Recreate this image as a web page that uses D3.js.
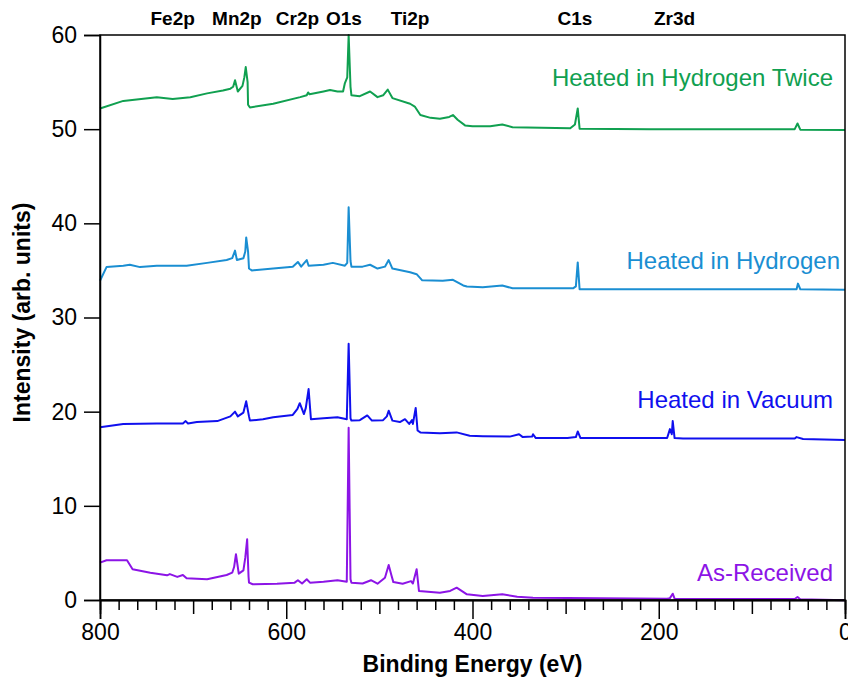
<!DOCTYPE html>
<html>
<head>
<meta charset="utf-8">
<script src="https://cdn.jsdelivr.net/npm/d3@7"></script>
<style>
  html, body { margin: 0; padding: 0; background: #fff; }
  svg { display: block; font-family: "Liberation Sans", Arial, sans-serif; }
</style>
</head>
<body>
<svg id="chart" width="848" height="688"></svg>
<script>
// XPS survey spectra, [binding energy (eV), intensity (arb. units, offset)]
const asReceived = [
  [800,3.97],[793,4.22],[771,4.22],[765,3.27],[746,2.9],[728,2.62],[725,2.75],[717,2.45],[711,2.66],[707,2.3],
  [685,2.2],[664,2.66],[658,2.9],[656,3.5],[654,4.86],[652,3.5],[651,2.8],[646,3.15],[644,4.5],[642,6.45],
  [640.5,2.5],[640,1.84],[636,1.67],[610,1.73],[591,1.84],[587.5,2.1],[583,1.75],[578,2.2],[574.5,1.84],[560,1.95],
  [545,2.1],[535,1.95],[533,18.3],[531,2.2],[530,1.84],[518,1.75],[509,2.1],[502,1.73],[494,2.37],[490,3.72],
  [487,2.6],[485,1.9],[475,1.73],[466,2.0],[464,1.75],[460,3.27],[457.5,0.96],[435,0.78],[424,0.96],[417,1.31],
  [406,0.6],[389,0.43],[368,0.6],[352,0.35],[335,0.25],[298,0.2],[191,0.14],[188,0.2],[185,0.67],[183,0.14],
  [54,0.1],[51,0.32],[48,0.08],[0,-0.03]
];
const heatedVacuum = [
  [800,18.35],[775,18.7],[739,18.75],[711,18.75],[708,19.0],[705.5,18.75],[696,18.9],[674,19.0],[660,19.5],[655,20.0],
  [652,19.5],[646,19.9],[643,21.1],[640,19.5],[639,19.05],[625,19.2],[614,19.4],[593,19.65],[588,20.3],[585.5,20.9],
  [581,19.75],[579,20.4],[576,22.4],[573.5,19.2],[560,19.3],[545,19.4],[535,19.2],[533,27.2],[531,19.3],[530,19.05],
  [521,19.1],[513,19.6],[508,19.05],[496,19.1],[492,19.5],[490,20.1],[486,19.05],[478,18.9],[472.5,19.2],[468,18.7],
  [465,19.1],[464,18.7],[461,20.4],[459,18.0],[456,17.8],[435,17.7],[417,17.8],[403,17.45],[389,17.4],[360,17.35],
  [350,17.6],[346,17.3],[336,17.35],[335,17.6],[332,17.2],[298,17.2],[289,17.3],[287,17.9],[284,17.2],[191,17.2],
  [188,18.15],[186,17.6],[185,19.0],[183,17.2],[174,17.15],[54,17.15],[52,17.3],[45,17.1],[0,17.0]
];
const heatedHydrogen = [
  [800,33.9],[793,35.35],[775,35.5],[768,35.6],[757,35.35],[739,35.5],[707,35.5],[685,35.8],[664,36.1],[658,36.3],
  [655,37.1],[653,36.1],[646,36.3],[644,37.0],[643,38.5],[641,37.0],[640,35.2],[637,35.0],[614,35.2],[593,35.4],
  [587.5,35.9],[584,35.4],[578,36.1],[576,35.5],[560,35.6],[550,35.8],[537,35.5],[534.5,35.8],[533,41.7],[531,36.0],
  [530,35.4],[518,35.4],[510,35.6],[502,35.2],[494,35.4],[490,36.1],[486,35.2],[467,34.8],[460,34.6],[454,33.95],
  [432,33.9],[421,34.0],[410,33.4],[406,33.3],[389,33.2],[368,33.4],[357,33.1],[292,33.1],[289,33.3],[287,35.85],
  [285,33.0],[209,33.0],[52,33.0],[50.5,33.6],[48,33.0],[0,32.95]
];
const heatedHydrogenTwice = [
  [800,52.2],[775,53.0],[739,53.4],[722,53.2],[703,53.4],[685,53.8],[668,54.1],[660,54.3],[657,54.5],[655,55.2],
  [652,54.0],[647,54.6],[645,55.5],[643.5,56.6],[641.5,55.0],[641,52.6],[639,52.3],[614,52.7],[585,53.4],[578,53.6],
  [576.5,53.9],[575,53.7],[560,54.0],[553,54.15],[545,54.0],[539,54.0],[537,54.9],[534.5,55.5],[533,60.0],[531,54.5],
  [530,53.6],[521,53.5],[510,54.0],[502,53.4],[496,53.6],[491,54.2],[486,53.3],[467,52.7],[462,52.4],[456,51.5],
  [445,51.2],[435,51.1],[425,51.3],[421,51.5],[416,51.0],[408,50.4],[400,50.3],[389,50.3],[381,50.3],[368,50.5],
  [357,50.2],[295,50.1],[290,50.5],[287,52.2],[285,50.05],[209,50.0],[54,50.0],[51,50.6],[48,49.95],[0,49.9]
];

const seriesNames = ["As-Received", "Heated in Vacuum", "Heated in Hydrogen", "Heated in Hydrogen Twice"];
const seriesColors = ["#8c14e6", "#1010ee", "#1a8ed2", "#10a050"];
const labelValues = [2.0, 20.4, 35.2, 54.6];

// core-level peak labels above the frame
const peakNames = ["Fe2p", "Mn2p", "Cr2p", "O1s", "Ti2p", "C1s", "Zr3d"];
const peakEnergies = [722, 653, 588, 538, 467, 290, 183];

const yTicks = [0, 10, 20, 30, 40, 50, 60];
const xMajorTicks = [800, 600, 400, 200, 0];

const svg = d3.select("#chart");
const plotLeft = 100, plotRight = 845, plotTop = 35, plotBottom = 600;

const x = d3.scaleLinear().domain([800, 0]).range([plotLeft, plotRight]);
const y = d3.scaleLinear().domain([0, 60]).range([plotBottom, plotTop]);

// spectra
const line = d3.line().x(d => x(d[0])).y(d => y(d[1]));
const allSeries = [asReceived, heatedVacuum, heatedHydrogen, heatedHydrogenTwice];
svg.append("g").selectAll("path").data(allSeries).join("path")
  .attr("d", line)
  .attr("fill", "none")
  .attr("stroke", (d, i) => seriesColors[i])
  .attr("stroke-width", 2)
  .attr("stroke-linejoin", "round");

// frame
svg.append("rect")
  .attr("x", plotLeft).attr("y", plotTop)
  .attr("width", plotRight - plotLeft).attr("height", plotBottom - plotTop)
  .attr("fill", "none").attr("stroke", "#000").attr("stroke-width", 1.5);

// y axis
const yAxis = svg.append("g").attr("transform", `translate(${plotLeft},0)`)
  .call(d3.axisLeft(y).tickValues(yTicks).tickSize(16).tickPadding(7).tickFormat(d3.format("d")));
yAxis.select(".domain").attr("stroke-width", 1.5);
yAxis.selectAll(".tick line").attr("stroke-width", 1.5);
yAxis.selectAll("text").attr("font-size", 23).attr("fill", "#000")
  .style("font-family", "'Liberation Sans', Arial, sans-serif");

// x axis: minor (20 eV), medium (100 eV), major (200 eV) ticks
const minor = d3.range(0, 801, 20).filter(v => v % 100 !== 0);
const medium = d3.range(100, 800, 200);
const xMinor = svg.append("g").attr("transform", `translate(0,${plotBottom})`)
  .call(d3.axisBottom(x).tickValues(minor).tickSize(10).tickFormat(""));
const xMedium = svg.append("g").attr("transform", `translate(0,${plotBottom})`)
  .call(d3.axisBottom(x).tickValues(medium).tickSize(14).tickFormat(""));
const xMajor = svg.append("g").attr("transform", `translate(0,${plotBottom})`)
  .call(d3.axisBottom(x).tickValues(xMajorTicks).tickSize(19).tickPadding(5).tickFormat(d3.format("d")));
[xMinor, xMedium, xMajor].forEach(g => {
  g.select(".domain").attr("stroke-width", 1.5);
  g.selectAll(".tick line").attr("stroke-width", 1.5);
});
xMajor.selectAll("text").attr("font-size", 23).attr("fill", "#000")
  .style("font-family", "'Liberation Sans', Arial, sans-serif");

// axis titles
svg.append("text")
  .attr("x", (plotLeft + plotRight) / 2).attr("y", 672)
  .attr("text-anchor", "middle")
  .attr("font-size", 23).attr("font-weight", "bold")
  .text("Binding Energy (eV)");
svg.append("text")
  .attr("transform", `translate(30,${(plotTop + plotBottom) / 2 - 5}) rotate(-90)`)
  .attr("text-anchor", "middle")
  .attr("font-size", 23).attr("font-weight", "bold")
  .text("Intensity (arb. units)");

// peak labels
svg.append("g").selectAll("text").data(peakNames).join("text")
  .attr("x", (d, i) => x(peakEnergies[i]))
  .attr("y", 25)
  .attr("text-anchor", "middle")
  .attr("font-size", 19).attr("font-weight", "bold")
  .text(d => d);

// series labels
svg.append("g").selectAll("text").data(seriesNames).join("text")
  .attr("x", (d, i) => i === 2 ? 840 : 833)
  .attr("y", (d, i) => y(labelValues[i]))
  .attr("text-anchor", "end")
  .attr("font-size", 24)
  .attr("fill", (d, i) => seriesColors[i])
  .text(d => d);
</script>
</body>
</html>
